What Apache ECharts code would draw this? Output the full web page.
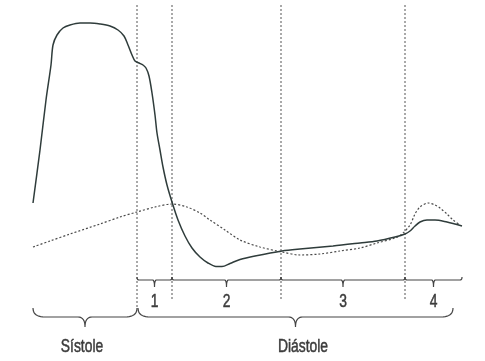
<!DOCTYPE html>
<html><head><meta charset="utf-8">
<script src="https://cdn.jsdelivr.net/npm/echarts@6/dist/echarts.min.js"></script>
<style>html,body{margin:0;padding:0;background:#fff}#c{width:485px;height:361px}</style>
</head><body><div id="c"></div>
<script>
// time in ms, pressure in mmHg
const ventricular = [[0,38.5],[14,65],[26,90],[36,107.5],[40,117.5],[48,122.5],[60,126],[74,127.5],[94,128.5],[114,128.5],[134,128],[154,127],[170,125],[182,122],[190,117.5],[198,112.5],[204,109.5],[212,108.5],[220,107.5],[226,106],[232,102],[238,93.5],[244,82.5],[248,73.5],[254,65],[260,56.5],[268,47.5],[278,39],[290,30],[304,22],[318,16],[334,11.5],[350,8.5],[366,6.75],[378,6.75],[394,8.25],[414,10.25],[444,12],[498,14.5],[534,15.5],[600,17],[654,18.5],[688,19.5],[724,21.5],[744,23],[754,24.5],[764,27],[774,29],[788,30],[804,30],[828,29],[844,28],[858,27]];
const atrial = [[0,16.5],[34,19.5],[74,23],[134,28],[174,31.5],[208,34],[244,36.5],[278,38],[308,36.5],[334,33.5],[354,30],[384,25],[414,20],[454,16.5],[498,14],[534,12.5],[574,13],[614,14.5],[654,16],[688,18.5],[724,21],[738,23],[754,27.5],[764,33],[774,36.5],[790,38.5],[804,37.5],[814,36],[828,33],[840,30],[854,27.5]];
const phaseBounds = [208, 278, 496, 744, 858];
const phaseLabels = ['1', '2', '3', '4'];
const cycleNames = ['Sístole', 'Diástole'];
const cycleFrom = [0, 210];
const cycleTo = [208, 840];
const cycleLabelAt = [98, 540];

const FONT = '"Liberation Sans",Arial,sans-serif';
const INK = '#3c3c3c';

function quad(pts, a, c, b, n) {
  n = n || 10;
  for (let i = 0; i <= n; i++) {
    const t = i / n, u = 1 - t;
    pts.push([u*u*a[0] + 2*u*t*c[0] + t*t*b[0], u*u*a[1] + 2*u*t*c[1] + t*t*b[1]]);
  }
}
function bracePts(x0, x1, yEnd, yFlat, yTip, rEnd, rTip) {
  const xm = (x0 + x1) / 2, pts = [];
  quad(pts, [x0, yEnd], [x0, yFlat], [x0 + rEnd, yFlat]);
  quad(pts, [xm - rTip, yFlat], [xm, yFlat], [xm, yTip]);
  quad(pts, [xm, yTip], [xm, yFlat], [xm + rTip, yFlat]);
  quad(pts, [x1 - rEnd, yFlat], [x1, yFlat], [x1, yEnd]);
  return pts;
}
function label(x, y, text) {
  return {type: 'text', x: x, y: y, scaleX: 0.77, scaleY: 1,
    style: {text: text, fill: INK, stroke: INK, lineWidth: 0.5, font: '18px ' + FONT, align: 'center', verticalAlign: 'middle'}};
}

const vlineData = phaseBounds.slice(0, 4).map((t, i) => [t, 137.5, i === 0 ? -14 : -10]);
const phaseData = phaseLabels.map((l, i) => [phaseBounds[i], phaseBounds[i + 1], l]);
const cycleData = cycleNames.map((n, i) => [cycleFrom[i], cycleTo[i], n, cycleLabelAt[i]]);

const chart = echarts.init(document.getElementById('c'), null, {renderer: 'canvas'});
chart.setOption({
  animation: false,
  backgroundColor: '#fff',
  grid: {left: 33, right: 23, top: 0, bottom: 0},
  xAxis: {type: 'value', min: 0, max: 858, show: false},
  yAxis: {type: 'value', min: -40.5, max: 140, show: false},
  series: [
    {
      type: 'custom', data: vlineData, encode: {x: 0, y: 1}, silent: true,
      renderItem: (p, api) => {
        const a = api.coord([api.value(0), api.value(1)]);
        const b = api.coord([api.value(0), api.value(2)]);
        return {type: 'line', shape: {x1: a[0], y1: a[1], x2: b[0], y2: b[1]},
          style: {stroke: '#555', lineWidth: 1, lineDash: [2, 2]}};
      }
    },
    {
      type: 'custom', data: phaseData, encode: {x: 0}, silent: true,
      renderItem: (p, api) => {
        const a = api.coord([api.value(0), 0]);
        const b = api.coord([api.value(1), 0]);
        const y0 = a[1];
        const pts = bracePts(a[0], b[0], y0 - 3, y0, y0 + 7, 2, 2);
        const lab = api.coord([(api.value(0) + api.value(1)) / 2, -11]);
        return {type: 'group', children: [
          {type: 'polyline', shape: {points: pts}, style: {stroke: '#444', lineWidth: 1.2, fill: null}},
          label(lab[0], lab[1], api.value(2))
        ]};
      }
    },
    {
      type: 'custom', data: cycleData, encode: {x: 0}, silent: true,
      renderItem: (p, api) => {
        const a = api.coord([api.value(0), -14]);
        const b = api.coord([api.value(1), -14]);
        const yF = api.coord([0, -18.5])[1];
        const yT = api.coord([0, -23.5])[1];
        const pts = bracePts(a[0], b[0], a[1], yF, yT, 12, 7);
        const lab = api.coord([api.value(3), -33.5]);
        return {type: 'group', children: [
          {type: 'polyline', shape: {points: pts}, style: {stroke: '#444', lineWidth: 1.2, fill: null}},
          label(lab[0], lab[1], api.value(2))
        ]};
      }
    },
    {
      type: 'line', data: atrial, smooth: 0.3, showSymbol: false, silent: true,
      lineStyle: {color: '#4a4a4a', width: 1.2, type: [2, 2]}
    },
    {
      type: 'line', data: ventricular, smooth: 0.3, showSymbol: false, silent: true,
      lineStyle: {color: '#2f3c3b', width: 1.5}
    }
  ]
});
</script></body></html>
